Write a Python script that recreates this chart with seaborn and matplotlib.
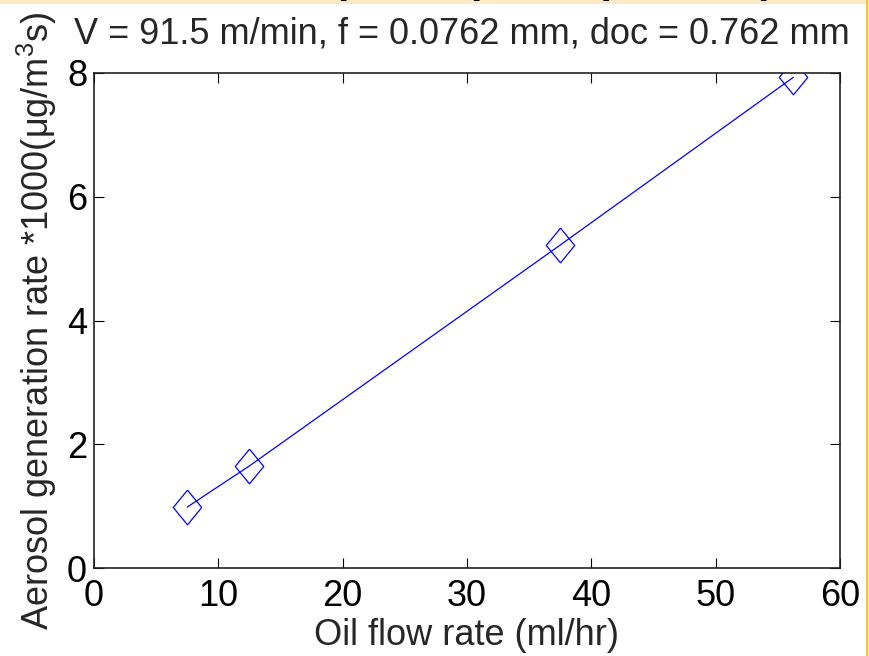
import matplotlib
matplotlib.use("Agg")
import matplotlib.pyplot as plt
import seaborn as sns
import pandas as pd
from matplotlib.patches import Rectangle

# values
oil_flow = [7.5, 12.5, 37.5, 56.25]
aerosol_rate = [0.985, 1.65, 5.22, 7.93]
x_ticks = [0, 10, 20, 30, 40, 50, 60]
y_ticks = [0, 2, 4, 6, 8]

df = pd.DataFrame({"oil": oil_flow, "rate": aerosol_rate})

sns.set_style("white")
plt.rcParams['font.family'] = ['Liberation Sans', 'DejaVu Sans']
plt.rcParams['mathtext.fontset'] = 'custom'
plt.rcParams['mathtext.rm'] = 'Liberation Sans'
plt.rcParams['mathtext.it'] = 'Liberation Sans'

fig = plt.figure(figsize=(8.69, 6.56), dpi=100)
fig.patch.set_facecolor('white')

# slide background bits at the top and right edge
fig.add_artist(Rectangle((0, 1 - 4 / 656), 1, 4 / 656, transform=fig.transFigure,
                         facecolor='#fde9c4', edgecolor='none', zorder=0))
fig.add_artist(Rectangle((866 / 869, 0), 2 / 869, 1, transform=fig.transFigure,
                         facecolor='#f6c532', edgecolor='none', zorder=0))
fig.add_artist(Rectangle((868 / 869, 0), 1 / 869, 1, transform=fig.transFigure,
                         facecolor='#fde9c4', edgecolor='none', zorder=0))

# clipped pieces of the slide heading above the chart
for ch, xp in [("p", 350), ("/", 433), ("(", 473), (")", 610), ("p", 770)]:
    fig.text(xp / 869, 1 + 8 / 656, ch, fontsize=30, fontweight='bold',
             ha='center', va='baseline', color='black')

ax = fig.add_axes([94 / 869, 1 - 568 / 656, 746 / 869, 495 / 656])

diamond = [(0, 1), (0.82, 0), (0, -1), (-0.82, 0), (0, 1)]
sns.lineplot(data=df, x="oil", y="rate", ax=ax, color='#0000ff', linewidth=0.9,
             marker=diamond, markersize=25, markerfacecolor='none',
             markeredgecolor='#0000ff', markeredgewidth=0.9)

ax.set_xlim(0, 60)
ax.set_ylim(0, 8)
ax.set_xticks(x_ticks)
ax.set_yticks(y_ticks)
ax.tick_params(direction='in', length=7, width=0.8, labelsize=26, pad=5,
               top=True, right=True, bottom=True, left=True, colors='black')
ax.tick_params(axis='x', pad=8)
for s in ax.spines.values():
    s.set_visible(True)
    s.set_linewidth(1.2)
    s.set_color('#222222')

ax.set_xlabel("Oil flow rate (ml/hr)", fontsize=26)
ax.xaxis.set_label_coords(0.5, -0.102)
ax.set_ylabel("Aerosol generation rate *1000(μg/m$^3$s)", fontsize=26)
ax.yaxis.set_label_coords(-0.047, 0.5)
fig.text(462 / 869, 1 - 44 / 656, "V = 91.5 m/min, f = 0.0762 mm, doc = 0.762 mm",
         fontsize=26, ha='center', va='baseline')

fig.savefig("out.png", dpi=100)
